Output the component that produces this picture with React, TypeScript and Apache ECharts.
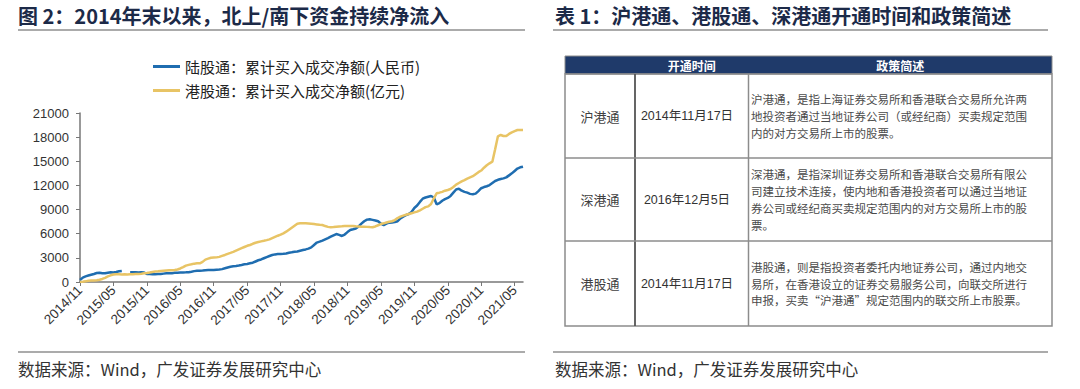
import React, { useEffect, useRef } from "react";
import * as echarts from "echarts";

// ---------- data ----------
// half-month categories from 2014/11 to 2021/06
const halfMonths: string[] = (() => {
  const out: string[] = [];
  let y = 2014;
  let m = 11;
  for (let i = 0; i < 80; i++) {
    const mm = m < 10 ? "0" + m : "" + m;
    out.push(`${y}/${mm}/01`);
    out.push(`${y}/${mm}/16`);
    m++;
    if (m > 12) {
      m = 1;
      y++;
    }
  }
  return out;
})();

const seriesNames = ["陆股通：累计买入成交净额(人民币)", "港股通：累计买入成交净额(亿元)"];

const northbound: (number | null)[] = [
  250, 550, 700, 800, 900, 1000, 1120, 1160, 1100, 1080,
  1150, 1200, 1180, 1250, 1330, 1370, null, null, 1200, 1200,
  1210, 1190, 1200, 1180, 1000, 980, 970, 960, 990, 1000,
  1040, 1080, 1090, 1100, 1140, 1160, 1180, 1190, 1200, 1220,
  1280, 1350, 1400, 1410, 1430, 1460, 1480, 1490, 1500, 1530,
  1560, 1600, 1700, 1800, 1900, 1950, 1990, 2050, 2120, 2200,
  2240, 2320, 2400, 2550, 2700, 2800, 2950, 3100, 3230, 3350,
  3430, 3480, 3480, 3500, 3550, 3640, 3700, 3770, 3800, 3890,
  3980, 4050, 4150, 4300, 4600, 4900, 5010, 5150, 5300, 5450,
  5630, 5800, 5960, 5850, 5720, 5900, 6200, 6460, 6550, 6650,
  6900, 7250, 7550, 7750, 7790, 7720, 7650, 7550, 7250, 7080,
  7250, 7370, 7400, 7450, 7550, 7900, 8120, 8300, 8450, 8700,
  9200, 9500, 9950, 10350, 10500, 10600, 10690, 10500, 9650, 9800,
  10100, 10300, 10450, 10700, 11100, 11500, 11600, 11350, 11200, 11100,
  10950, 10900, 10980, 11300, 11650, 11800, 11900, 12050, 12300, 12550,
  12700, 12800, 12880, 13000, 13250, 13500, 13800, 14100, 14250, 14330,
];

const southbound: number[] = [
  0, 30, 80, 150, 180, 200, 230, 280, 380, 520,
  700, 830, 930, 960, 950, 940, 950, 940, 950, 960,
  980, 1000, 1030, 1080, 1120, 1180, 1250, 1300, 1330, 1370,
  1410, 1430, 1450, 1470, 1490, 1560, 1680, 1850, 2030, 2130,
  2200, 2280, 2320, 2320, 2500, 2780, 2900, 3020, 3040, 3060,
  3120, 3250, 3360, 3500, 3620, 3750, 3900, 4050, 4200, 4350,
  4500, 4600, 4750, 4880, 4970, 5050, 5120, 5200, 5300, 5450,
  5600, 5750, 5880, 6050, 6250, 6500, 6750, 7000, 7250, 7300,
  7290, 7300, 7280, 7250, 7200, 7150, 7100, 7080, 6950, 6850,
  6800, 6830, 6870, 6900, 6920, 6950, 6960, 6960, 6950, 6920,
  6900, 6880, 6870, 6850, 6820, 6800, 6900, 7050, 7200, 7290,
  7400, 7490, 7550, 7700, 7950, 8120, 8250, 8350, 8450, 8550,
  8650, 8740, 8900, 9100, 9300, 9400, 9700, 10400, 11020, 11100,
  11200, 11350, 11430, 11550, 11800, 12100, 12300, 12500, 12670, 12850,
  13000, 13150, 13400, 13650, 13850, 14200, 14500, 14750, 14950, 16500,
  18100, 18270, 18140, 18150, 18400, 18600, 18750, 18890, 18900, 18890,
];

const Y_MIN = 0;
const Y_MAX = 21000;
const Y_STEP = 3000;

const leftTitle = "图 2：2014年末以来，北上/南下资金持续净流入";
const rightTitle = "表 1：沪港通、港股通、深港通开通时间和政策简述";
const sourceText = "数据来源：Wind，广发证券发展研究中心";

const tableHeader = ["开通时间", "政策简述"];
const tableNames = ["沪港通", "深港通", "港股通"];
const tableDates = ["2014年11月17日", "2016年12月5日", "2014年11月17日"];
const tableDescs: string[][] = [
  [
    "沪港通，是指上海证券交易所和香港联合交易所允许两",
    "地投资者通过当地证券公司（或经纪商）买卖规定范围",
    "内的对方交易所上市的股票。",
  ],
  [
    "深港通，是指深圳证券交易所和香港联合交易所有限公",
    "司建立技术连接，使内地和香港投资者可以通过当地证",
    "券公司或经纪商买卖规定范围内的对方交易所上市的股",
    "票。",
  ],
  [
    "港股通，则是指投资者委托内地证券公司，通过内地交",
    "易所，在香港设立的证券交易服务公司，向联交所进行",
    "申报，买卖“沪港通”规定范围内的联交所上市股票。",
  ],
];

// ---------- styles ----------
const CJK = '"Noto Sans CJK SC", "Noto Sans", sans-serif';
const LATIN = '"Liberation Sans", Arial, "Noto Sans CJK SC", sans-serif';
const BLUE = "#1F6DB0";
const YELLOW = "#E8C465";
const TITLE_COLOR = "#1c2a48";
const RULE = "#8f8f8f";

export default function App() {
  const ref = useRef<HTMLDivElement>(null);

  useEffect(() => {
    if (!ref.current) return;
    const chart = echarts.init(ref.current, undefined, { renderer: "svg" });

    // table geometry
    const tL = 565, tR = 1052, hTop = 56, hBot = 74;
    const c1 = 635, c2 = 748.5;
    const rowEdges = [74, 158, 241, 326];
    const descStep = 16.8;
    const descFont = 11.5;

    const graphic: any[] = [
      // titles
      { type: "text", x: 18, y: 15, style: { text: leftTitle, fontSize: 20, fontWeight: "bold", fontFamily: CJK, fill: TITLE_COLOR, verticalAlign: "middle" } },
      { type: "line", shape: { x1: 18, y1: 30, x2: 525, y2: 30 }, style: { stroke: RULE, lineWidth: 1.5 } },
      { type: "text", x: 555, y: 15, style: { text: rightTitle, fontSize: 20, fontWeight: "bold", fontFamily: CJK, fill: TITLE_COLOR, verticalAlign: "middle" } },
      { type: "line", shape: { x1: 553, y1: 30, x2: 1048, y2: 30 }, style: { stroke: RULE, lineWidth: 1.5 } },
      // footers
      { type: "line", shape: { x1: 18, y1: 352, x2: 525, y2: 352 }, style: { stroke: RULE, lineWidth: 1.5 } },
      { type: "text", x: 18, y: 369, style: { text: sourceText, fontSize: 16.5, fontFamily: CJK, fill: "#333", verticalAlign: "middle" } },
      { type: "line", shape: { x1: 553, y1: 352, x2: 1048, y2: 352 }, style: { stroke: RULE, lineWidth: 1.5 } },
      { type: "text", x: 555, y: 369, style: { text: sourceText, fontSize: 16.5, fontFamily: CJK, fill: "#333", verticalAlign: "middle" } },
      // table header
      { type: "rect", shape: { x: tL, y: hTop, width: tR - tL, height: hBot - hTop }, style: { fill: "#1F3A6A", stroke: "#8c8c8c", lineWidth: 1 } },
      { type: "text", x: (c1 + c2) / 2, y: (hTop + hBot) / 2, style: { text: tableHeader[0], fontSize: 12, fontWeight: "bold", fontFamily: CJK, fill: "#fff", align: "center", verticalAlign: "middle" } },
      { type: "text", x: (c2 + tR) / 2, y: (hTop + hBot) / 2, style: { text: tableHeader[1], fontSize: 12, fontWeight: "bold", fontFamily: CJK, fill: "#fff", align: "center", verticalAlign: "middle" } },
      // table body frame
      { type: "rect", shape: { x: tL, y: rowEdges[0], width: tR - tL, height: rowEdges[3] - rowEdges[0] }, style: { fill: "none", stroke: "#8c8c8c", lineWidth: 1.5 } },
      { type: "line", shape: { x1: c1, y1: rowEdges[0], x2: c1, y2: rowEdges[3] }, style: { stroke: "#555", lineWidth: 1.8 } },
      { type: "line", shape: { x1: c2, y1: rowEdges[0], x2: c2, y2: rowEdges[3] }, style: { stroke: "#8c8c8c", lineWidth: 1.5 } },
      { type: "line", shape: { x1: tL, y1: rowEdges[1], x2: tR, y2: rowEdges[1] }, style: { stroke: "#8c8c8c", lineWidth: 1.5 } },
      { type: "line", shape: { x1: tL, y1: rowEdges[2], x2: tR, y2: rowEdges[2] }, style: { stroke: "#8c8c8c", lineWidth: 1.5 } },
    ];

    tableNames.forEach((name, i) => {
      const cy = (rowEdges[i] + rowEdges[i + 1]) / 2;
      graphic.push({ type: "text", x: (tL + c1) / 2, y: cy, style: { text: name, fontSize: 13, fontFamily: CJK, fill: "#404040", align: "center", verticalAlign: "middle" } });
      graphic.push({ type: "text", x: 687, y: cy, style: { text: tableDates[i], fontSize: 12.5, fontFamily: LATIN, fill: "#333", align: "center", verticalAlign: "middle" } });
      const lines = tableDescs[i];
      const firstY = cy - ((lines.length - 1) * descStep) / 2;
      lines.forEach((line, j) => {
        graphic.push({
          type: "text",
          x: 751,
          y: firstY + j * descStep,
          style: { text: line, fontSize: descFont, fontFamily: CJK, fill: "#4a4a4a", align: "left", verticalAlign: "middle" },
        });
      });
    });

    const option: any = {
      animation: false,
      backgroundColor: "#ffffff",
      textStyle: { fontFamily: CJK },
      legend: {
        orient: "vertical",
        left: 148,
        top: 54,
        itemWidth: 27,
        itemHeight: 3,
        itemGap: 9,
        icon: "rect",
        textStyle: { fontSize: 15, color: "#222", fontFamily: CJK },
        data: seriesNames,
      },
      grid: { left: 80, top: 113, width: 443, height: 169, containLabel: false },
      xAxis: {
        type: "category",
        data: halfMonths,
        boundaryGap: false,
        axisLine: { lineStyle: { color: "#777", width: 1.5 } },
        axisTick: { interval: (i: number) => i % 12 === 0, length: 4, lineStyle: { color: "#777", width: 1 } },
        axisLabel: {
          interval: (i: number) => i % 12 === 0,
          rotate: 45,
          margin: 6,
          fontSize: 13.5,
          color: "#333",
          fontFamily: LATIN,
          formatter: (v: string) => v.slice(0, 7),
        },
        splitLine: { show: false },
      },
      yAxis: {
        type: "value",
        min: Y_MIN,
        max: Y_MAX,
        interval: Y_STEP,
        axisLine: { show: true, lineStyle: { color: "#777", width: 1.5 } },
        axisTick: { show: true, length: 4, lineStyle: { color: "#777" } },
        axisLabel: { fontSize: 13, color: "#333", fontFamily: LATIN, margin: 11, formatter: (v: number) => String(v) },
        splitLine: { show: false },
      },
      series: [
        {
          name: seriesNames[0],
          type: "line",
          data: northbound,
          showSymbol: false,
          connectNulls: false,
          lineStyle: { color: BLUE, width: 2.5 },
          itemStyle: { color: BLUE },
        },
        {
          name: seriesNames[1],
          type: "line",
          data: southbound,
          showSymbol: false,
          lineStyle: { color: YELLOW, width: 2.5 },
          itemStyle: { color: YELLOW },
        },
      ],
      graphic,
    };

    chart.setOption(option);
    return () => chart.dispose();
  }, []);

  return (
    <div
      ref={ref}
      style={{ position: "absolute", left: 0, top: 0, width: 1080, height: 389, background: "#fff" }}
    />
  );
}
